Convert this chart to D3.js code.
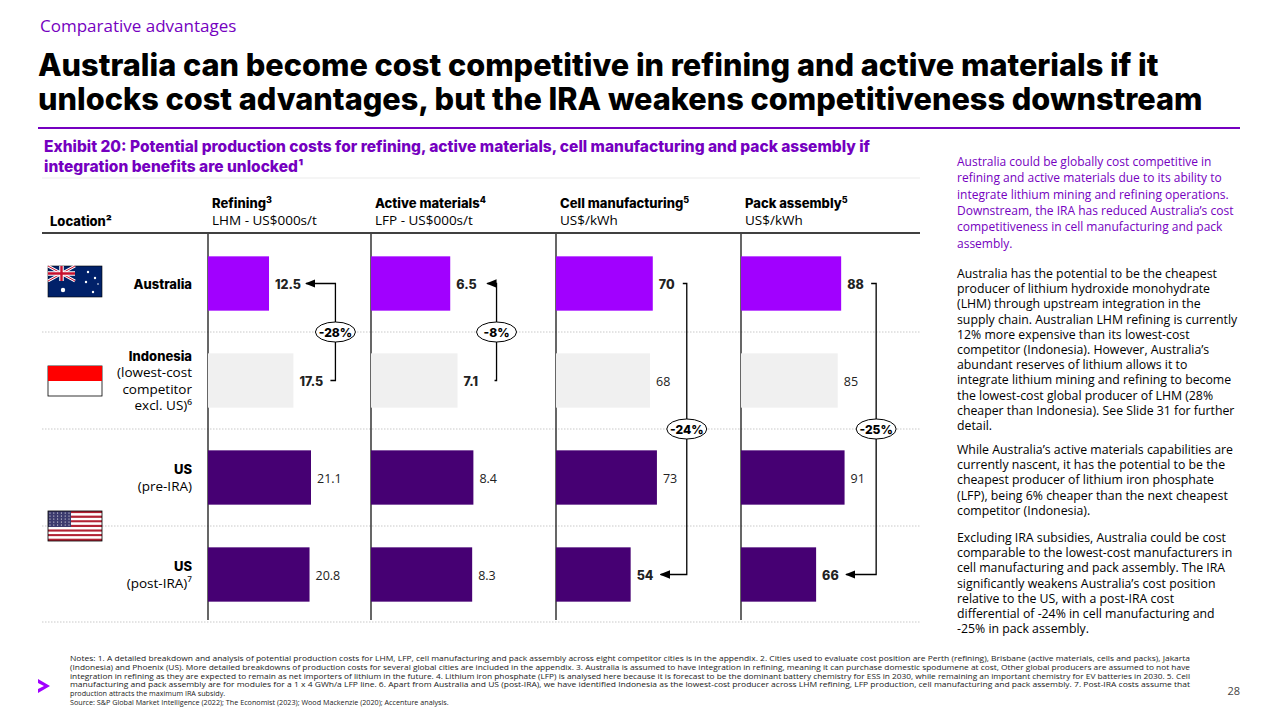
<!DOCTYPE html>
<html><head><meta charset="utf-8">
<script src="https://cdn.jsdelivr.net/npm/d3@7"></script>
<style>
body{margin:0;background:#fff;font-family:"Open Sans",sans-serif;}
svg text{font-family:"Open Sans",sans-serif;}
.b{font-family:Inter,"Open Sans",sans-serif;font-weight:800;}
</style></head><body>
<svg id="c" width="1280" height="720"></svg>
<script>
// data
const locations = ["Australia", "Indonesia", "US pre-IRA", "US post-IRA"];
const panels = ["Refining", "Active materials", "Cell manufacturing", "Pack assembly"];
const units = ["LHM - US$000s/t", "LFP - US$000s/t", "US$/kWh", "US$/kWh"];
const sups = ["3", "4", "5", "5"];
const refining = [12.5, 17.5, 21.1, 20.8];
const activeMaterials = [6.5, 7.1, 8.4, 8.3];
const cellManufacturing = [70, 68, 73, 54];
const packAssembly = [88, 85, 91, 66];
const deltas = ["-28%", "-8%", "-24%", "-25%"];
const series = [refining, activeMaterials, cellManufacturing, packAssembly];
const domainMax = [21.1, 8.45, 74.5, 90.5];

const colors = ["#a100ff", "#f0f0f0", "#460073", "#460073"];
const svg = d3.select("#c");
const purple = "#7500c0";

svg.append("text").attr("x", 40).attr("y", 32).attr("fill", purple).attr("font-size", 17).text("Comparative advantages");
const title = svg.append("text").attr("class", "b").attr("font-size", 30.7).attr("fill", "#000");
title.append("tspan").attr("x", 38).attr("y", 76).text("Australia can become cost competitive in refining and active materials if it");
title.append("tspan").attr("x", 38).attr("y", 110).text("unlocks cost advantages, but the IRA weakens competitiveness downstream");
svg.append("line").attr("x1", 38).attr("x2", 1240).attr("y1", 128).attr("y2", 128).attr("stroke", purple).attr("stroke-width", 2);
const ex = svg.append("text").attr("class", "b").attr("font-size", 15.5).attr("fill", purple);
ex.append("tspan").attr("x", 44).attr("y", 152).text("Exhibit 20: Potential production costs for refining, active materials, cell manufacturing and pack assembly if");
ex.append("tspan").attr("x", 44).attr("y", 172).text("integration benefits are unlocked¹");

// chart layout
const y = d3.scaleBand().domain(locations).range([235, 623]).paddingInner(0.44).paddingOuter(0.22);
const panelX = [208, 371, 556, 741];
svg.append("line").attr("x1", 42).attr("x2", 920).attr("y1", 233).attr("y2", 233).attr("stroke", "#000").attr("stroke-width", 1.3);
svg.append("line").attr("x1", 42).attr("x2", 920).attr("y1", 178).attr("y2", 178).attr("stroke", "#ddd").attr("stroke-width", 0.6);
svg.append("text").attr("class", "b").attr("x", 50).attr("y", 226).attr("font-size", 13).text("Location²");
[332, 429, 526, 622].forEach(yy => svg.append("line").attr("x1", 42).attr("x2", 920).attr("y1", yy).attr("y2", yy)
  .attr("stroke", "#bbb").attr("stroke-dasharray", "1.5,1.5").attr("stroke-width", 0.8));

// row labels
const rowLabels = [
  [["Australia", true]],
  [["Indonesia", true], ["(lowest-cost", false], ["competitor", false], ["excl. US)⁶", false]],
  [["US", true], ["(pre-IRA)", false]],
  [["US", true], ["(post-IRA)⁷", false]]
];
rowLabels.forEach((lines, i) => {
  const cy = y(locations[i]) + y.bandwidth() / 2;
  const t = svg.append("text").attr("text-anchor", "end").attr("font-size", 13.5);
  lines.forEach((l, j) => t.append("tspan").attr("x", 192).attr("y", cy + 5 + (j - (lines.length - 1) / 2) * 16.3)
    .attr("class", l[1] ? "b" : null).attr("font-size", l[1] ? 13 : 13.5).text(l[0]));
});

// flags
function flagAU(g) {
  g.append("rect").attr("width", 54).attr("height", 31).attr("fill", "#012169").attr("stroke", "#000").attr("stroke-width", 0.6);
  const u = g.append("g");
  u.append("path").attr("d", "M0,0L27,15M27,0L0,15").attr("stroke", "#fff").attr("stroke-width", 3);
  u.append("path").attr("d", "M0,0L27,15M27,0L0,15").attr("stroke", "#c8102e").attr("stroke-width", 1);
  u.append("path").attr("d", "M13.5,0V15M0,7.5H27").attr("stroke", "#fff").attr("stroke-width", 4.5);
  u.append("path").attr("d", "M13.5,0V15M0,7.5H27").attr("stroke", "#c8102e").attr("stroke-width", 2.4);
  [[15, 24, 2.2], [40, 6, 1.2], [47, 12, 1.2], [38, 16, 1.2], [45, 26, 1.2], [50, 18, 0.8]].forEach(s =>
    g.append("circle").attr("cx", s[0]).attr("cy", s[1]).attr("r", s[2]).attr("fill", "#fff"));
}
function flagID(g) {
  g.append("rect").attr("width", 54).attr("height", 30).attr("fill", "#fff").attr("stroke", "#000").attr("stroke-width", 0.8);
  g.append("rect").attr("width", 54).attr("height", 15).attr("fill", "#ff0000");
}
function flagUS(g) {
  for (let k = 0; k < 13; k++) g.append("rect").attr("y", k * 30 / 13).attr("width", 54).attr("height", 30 / 13)
    .attr("fill", k % 2 ? "#fff" : "#b22234");
  g.append("rect").attr("width", 23).attr("height", 16).attr("fill", "#3c3b6e");
  for (let r = 0; r < 5; r++) for (let c = 0; c < 6; c++) g.append("circle").attr("cx", 2 + c * 3.8).attr("cy", 2 + r * 3).attr("r", 0.6).attr("fill", "#fff");
  g.append("rect").attr("width", 54).attr("height", 30).attr("fill", "none").attr("stroke", "#000").attr("stroke-width", 0.8);
}
flagAU(svg.append("g").attr("transform", "translate(48,266)"));
flagID(svg.append("g").attr("transform", "translate(48,366)"));
flagUS(svg.append("g").attr("transform", "translate(48,511)"));

// defs arrow
svg.append("defs").append("marker").attr("id", "ar").attr("viewBox", "0 0 10 10").attr("refX", 9).attr("refY", 5)
  .attr("markerWidth", 8).attr("markerHeight", 8).attr("orient", "auto-start-reverse")
  .append("path").attr("d", "M0,1L10,5L0,9Z").attr("fill", "#000");

const bracketOffset = [42, 39, 34, 35];
panels.forEach((p, pi) => {
  const x0 = panelX[pi];
  const x = d3.scaleLinear().domain([0, domainMax[pi]]).range([0, 103]);
  const g = svg.append("g").attr("transform", `translate(${x0},0)`);
  const h = g.append("text").attr("x", 4).attr("y", 208);
  h.append("tspan").attr("class", "b").attr("font-size", 13).text(p);
  h.append("tspan").attr("class", "b").attr("font-size", 9).attr("dy", -5).text(sups[pi]);
  g.append("text").attr("x", 4).attr("y", 225).attr("font-size", 13.5).text(units[pi]);
  g.append("line").attr("x1", 0).attr("x2", 0).attr("y1", 234).attr("y2", 620).attr("stroke", "#000").attr("stroke-width", 1.2);
  const vals = series[pi];
  g.selectAll("rect.bar").data(vals).join("rect").attr("class", "bar")
    .attr("x", 0).attr("y", (d, i) => y(locations[i])).attr("width", d => x(d)).attr("height", y.bandwidth())
    .attr("fill", (d, i) => colors[i]);
  const pair = pi < 2 ? [0, 1] : [0, 3];
  const arrowTo = pi < 2 ? 0 : 3;
  g.selectAll("text.v").data(vals).join("text").attr("class", (d, i) => pair.includes(i) ? "v b" : "v")
    .attr("x", d => x(d) + 6).attr("y", (d, i) => y(locations[i]) + y.bandwidth() / 2 + 5)
    .attr("font-size", 12.5).attr("fill", "#222")
    .text(d => d3.format(pi < 2 ? ".1f" : "d")(d));
  const bx = d3.max(pair, i => x(vals[i])) + bracketOffset[pi];
  const ya = y(locations[pair[0]]) + y.bandwidth() / 2, yb = y(locations[pair[1]]) + y.bandwidth() / 2;
  const lblW = pi < 2 ? 27 : 20;
  const from = pair.find(i => i !== arrowTo);
  const yFrom = from === pair[0] ? ya : yb, yTo = arrowTo === pair[0] ? ya : yb;
  const xFrom = x(vals[from]) + 6 + lblW + 4, xTo = x(vals[arrowTo]) + 6 + lblW + 4;
  g.append("path").attr("d", `M${xFrom},${yFrom}H${bx}V${yTo}H${xTo}`).attr("fill", "none")
    .attr("stroke", "#000").attr("stroke-width", 1.3).attr("marker-end", "url(#ar)");
  const by = pi < 2 ? 332 : 429;
  g.append("ellipse").attr("cx", bx).attr("cy", by).attr("rx", 20).attr("ry", 10).attr("fill", "#fff").attr("stroke", "#000").attr("stroke-width", 1);
  g.append("text").attr("class", "b").attr("x", bx).attr("y", by + 4.5).attr("text-anchor", "middle").attr("font-size", 12).text(deltas[pi]);
});

// side text
const paras = [
  {c: purple, s: 12, l: ["Australia could be globally cost competitive in", "refining and active materials due to its ability to", "integrate lithium mining and refining operations.", "Downstream, the IRA has reduced Australia’s cost", "competitiveness in cell manufacturing and pack", "assembly."], y: 166},
  {c: "#000", s: 12.3, l: ["Australia has the potential to be the cheapest", "producer of lithium hydroxide monohydrate", "(LHM) through upstream integration in the", "supply chain. Australian LHM refining is currently", "12% more expensive than its lowest-cost", "competitor (Indonesia). However, Australia’s", "abundant reserves of lithium allows it to", "integrate lithium mining and refining to become", "the lowest-cost global producer of LHM (28%", "cheaper than Indonesia). See Slide 31 for further", "detail."], y: 278},
  {c: "#000", s: 12.3, l: ["While Australia’s active materials capabilities are", "currently nascent, it has the potential to be the", "cheapest producer of lithium iron phosphate", "(LFP), being 6% cheaper than the next cheapest", "competitor (Indonesia)."], y: 454},
  {c: "#000", s: 12.3, l: ["Excluding IRA subsidies, Australia could be cost", "comparable to the lowest-cost manufacturers in", "cell manufacturing and pack assembly. The IRA", "significantly weakens Australia’s cost position", "relative to the US, with a post-IRA cost", "differential of -24% in cell manufacturing and", "-25% in pack assembly."], y: 542}
];
paras.forEach(p => {
  const t = svg.append("text").attr("fill", p.c).attr("font-size", p.s);
  p.l.forEach((l, i) => t.append("tspan").attr("x", 957).attr("y", p.y + i * (p.c === purple ? 16.3 : 15.2)).text(l));
});

// notes
const notes = ["Notes: 1. A detailed breakdown and analysis of potential production costs for LHM, LFP, cell manufacturing and pack assembly across eight competitor cities is in the appendix. 2. Cities used to evaluate cost position are Perth (refining), Brisbane (active materials, cells and packs), Jakarta",
  "(Indonesia) and Phoenix (US). More detailed breakdowns of production costs for several global cities are included in the appendix. 3. Australia is assumed to have integration in refining, meaning it can purchase domestic spodumene at cost, Other global producers are assumed to not have",
  "integration in refining as they are expected to remain as net importers of lithium in the future. 4. Lithium iron phosphate (LFP) is analysed here because it is forecast to be the dominant battery chemistry for ESS in 2030, while remaining an important chemistry for EV batteries in 2030. 5. Cell",
  "manufacturing and pack assembly are for modules for a 1 x 4 GWh/a LFP line. 6. Apart from Australia and US (post-IRA), we have identified Indonesia as the lowest-cost producer across LHM refining, LFP production, cell manufacturing and pack assembly. 7. Post-IRA costs assume that",
  "production attracts the maximum IRA subsidy.",
  "Source: S&P Global Market Intelligence (2022); The Economist (2023); Wood Mackenzie (2020); Accenture analysis."];
const nt = svg.append("text").attr("font-size", 7.2).attr("fill", "#222").attr("font-family", "Roboto Condensed, Liberation Sans Narrow, sans-serif");
notes.forEach((l, i) => nt.append("tspan").attr("x", 70).attr("y", 661 + i * 8.8).attr("textLength", i < 4 ? 1120 : null).attr("lengthAdjust", "spacingAndGlyphs").text(l));
svg.append("path").attr("d", "M38,679L50,686L38,693L38,689L44,686L38,683Z").attr("fill", "#a100ff");
svg.append("text").attr("x", 1240).attr("y", 695).attr("text-anchor", "end").attr("font-size", 11).attr("fill", "#444").text("28");
</script></body></html>
